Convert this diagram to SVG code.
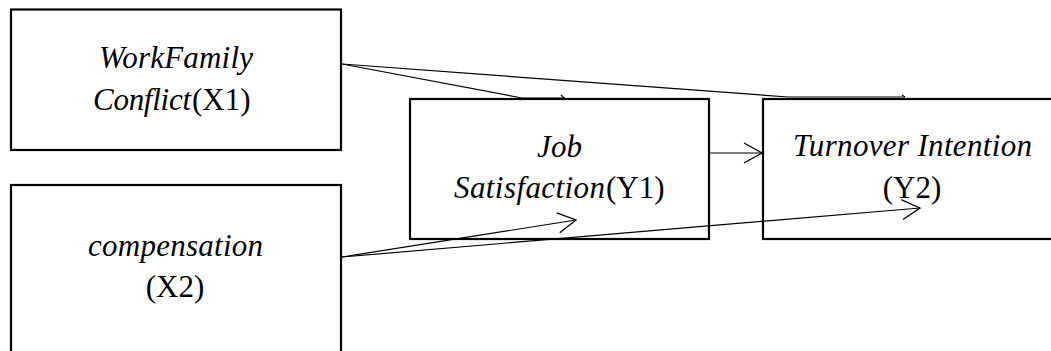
<svg xmlns="http://www.w3.org/2000/svg" width="1051" height="351" viewBox="0 0 1051 351">
<style>
.box{fill:#fff;stroke:#000;stroke-width:2.2}
.t{font-family:"Liberation Serif","Times New Roman",serif;font-size:31px;fill:#000}
.i{font-style:italic}
.c{fill:none;stroke:#000;stroke-width:1.2}
</style>
<defs>
<marker id="arr" markerUnits="userSpaceOnUse" markerWidth="22" markerHeight="24" refX="19" refY="11" orient="auto" overflow="visible">
<path d="M1,1 L19,11 L1,21" fill="none" stroke="#000" stroke-width="1.3"/>
</marker>
</defs>
<g id="connectors">
<polyline class="c" points="342,64 522,98 565,98"/>
<polyline class="c" points="342,64 788,97 905,97"/>
<line class="c" x1="561" y1="95" x2="564" y2="98"/>
<line class="c" x1="902" y1="95" x2="905" y2="97"/>
</g>
<g id="X1">
<rect class="box" x="11" y="9.5" width="330" height="140.5"/>
<text class="t i" x="99" y="68" textLength="154" lengthAdjust="spacing">WorkFamily</text>
<text class="t i" x="93" y="110" textLength="98" lengthAdjust="spacing">Conflict</text>
<text class="t" x="192" y="110">(X1)</text>
</g>
<g id="X2">
<rect class="box" x="11" y="185" width="330" height="180"/>
<text class="t i" x="88" y="256" textLength="175" lengthAdjust="spacing">compensation</text>
<text class="t" x="175" y="297" text-anchor="middle">(X2)</text>
</g>
<g id="Y1">
<rect class="box" x="410" y="99" width="299" height="140"/>
<text class="t i" x="537" y="157" textLength="45" lengthAdjust="spacing">Job</text>
<text class="t i" x="454" y="198" textLength="151" lengthAdjust="spacing">Satisfaction</text>
<text class="t" x="606" y="198">(Y1)</text>
</g>
<g id="Y2">
<rect class="box" x="763" y="99" width="300" height="140"/>
<text class="t i" x="793" y="156" textLength="239" lengthAdjust="spacing">Turnover Intention</text>
<text class="t" x="912" y="198" text-anchor="middle">(Y2)</text>
</g>
<g id="connectors-front">
<line class="c" x1="709" y1="153" x2="762" y2="153" marker-end="url(#arr)"/>
<line class="c" x1="342" y1="257" x2="576" y2="220" marker-end="url(#arr)"/>
<line class="c" x1="342" y1="257" x2="920" y2="208" marker-end="url(#arr)"/>
</g>
</svg>
